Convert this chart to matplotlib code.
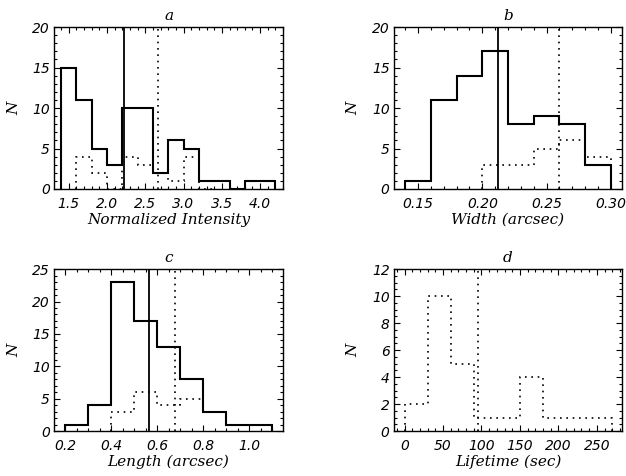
import numpy as np
import matplotlib
matplotlib.use("Agg")
import matplotlib.pyplot as plt
from matplotlib.ticker import MultipleLocator, FormatStrFormatter

# panel a - normalized intensity
a_bins = [1.4, 1.6, 1.8, 2.0, 2.2, 2.4, 2.6, 2.8, 3.0, 3.2, 3.4, 3.6, 3.8, 4.0, 4.2]
a_all = [15, 11, 5, 3, 10, 10, 2, 6, 5, 1, 1, 0, 1, 1]
a_sub_bins = [1.6, 1.8, 2.0, 2.2, 2.4, 2.6, 2.8, 3.0, 3.2, 3.4]
a_sub = [4, 2, 0, 4, 3, 2, 1, 4, 0]
a_mean_all, a_mean_sub = 2.225, 2.665

# panel b - width
b_bins = [0.14, 0.16, 0.18, 0.20, 0.22, 0.24, 0.26, 0.28, 0.30]
b_all = [1, 11, 14, 17, 8, 9, 8, 3]
b_sub_bins = [0.20, 0.22, 0.24, 0.26, 0.28, 0.30]
b_sub = [3, 3, 5, 6, 4]
b_mean_all, b_mean_sub = 0.2125, 0.2594

# panel c - length
c_bins = [0.2, 0.3, 0.4, 0.5, 0.6, 0.7, 0.8, 0.9, 1.0, 1.1]
c_all = [1, 4, 23, 17, 13, 8, 3, 1, 1]
c_sub_bins = [0.4, 0.5, 0.6, 0.7, 0.8, 0.9, 1.0, 1.1]
c_sub = [3, 6, 4, 5, 3, 1, 1]
c_mean_all, c_mean_sub = 0.566, 0.678

# panel d - lifetime (only dotted sample)
d_sub_bins = [0, 30, 60, 90, 120, 150, 180, 210, 240, 270]
d_sub = [2, 10, 5, 1, 1, 4, 1, 1, 1]
d_mean_sub = 95.5

dots = (0, (1, 2.8))
tickfont = dict(family="DejaVu Sans", style="italic", size=10)
labfont = dict(family="DejaVu Serif", style="italic", size=11)

fig = plt.figure(figsize=(6.26, 4.76), dpi=100)

def panel(pos, title, xlabel, xlim, ylim, xmaj, xmin, ymaj, ymin, fmt):
    ax = fig.add_axes(pos)
    ax.set_xlim(xlim)
    ax.set_ylim(ylim)
    ax.xaxis.set_major_locator(MultipleLocator(xmaj))
    ax.xaxis.set_minor_locator(MultipleLocator(xmin))
    ax.yaxis.set_major_locator(MultipleLocator(ymaj))
    ax.yaxis.set_minor_locator(MultipleLocator(ymin))
    ax.xaxis.set_major_formatter(FormatStrFormatter(fmt))
    ax.tick_params(which="both", direction="in", top=True, right=True, width=0.8)
    ax.tick_params(which="major", length=4)
    ax.tick_params(which="minor", length=2)
    ax.tick_params(axis="x", which="major", pad=6)
    ax.tick_params(axis="y", which="major", pad=3)
    for lab in ax.get_xticklabels() + ax.get_yticklabels():
        lab.set_fontfamily(tickfont["family"])
        lab.set_fontstyle(tickfont["style"])
        lab.set_fontsize(tickfont["size"])
    for s in ax.spines.values():
        s.set_linewidth(1.0)
    ax.set_title(title, pad=5, **labfont)
    ax.set_xlabel(xlabel, labelpad=1, **labfont)
    ax.set_ylabel("N", labelpad=8, **labfont)
    return ax

ax = panel([0.0863, 0.603, 0.366, 0.340], "a", "Normalized Intensity",
           (1.31, 4.30), (0, 20), 0.5, 0.1, 5, 1, "%.1f")
ax.stairs(a_all, a_bins, baseline=0, color="k", lw=1.5)
ax.stairs(a_sub, a_sub_bins, baseline=0, color="k", lw=1.2, ls=dots)
ax.axvline(a_mean_all, color="k", lw=1.3)
ax.axvline(a_mean_sub, color="k", lw=1.2, ls=dots)

ax = panel([0.629, 0.603, 0.365, 0.340], "b", "Width (arcsec)",
           (0.131, 0.309), (0, 20), 0.05, 0.01, 5, 1, "%.2f")
ax.stairs(b_all, b_bins, baseline=0, color="k", lw=1.5)
ax.stairs(b_sub, b_sub_bins, baseline=0, color="k", lw=1.2, ls=dots)
ax.axvline(b_mean_all, color="k", lw=1.3)
ax.axvline(b_mean_sub, color="k", lw=1.2, ls=dots)

ax = panel([0.0863, 0.0945, 0.366, 0.340], "c", "Length (arcsec)",
           (0.152, 1.147), (0, 25), 0.2, 0.05, 5, 1, "%.1f")
ax.stairs(c_all, c_bins, baseline=0, color="k", lw=1.5)
ax.stairs(c_sub, c_sub_bins, baseline=0, color="k", lw=1.2, ls=dots)
ax.axvline(c_mean_all, color="k", lw=1.3)
ax.axvline(c_mean_sub, color="k", lw=1.2, ls=dots)

ax = panel([0.629, 0.0945, 0.365, 0.340], "d", "Lifetime (sec)",
           (-14, 283), (0, 12), 50, 10, 2, 0.5, "%d")
ax.stairs(d_sub, d_sub_bins, baseline=0, color="k", lw=1.2, ls=dots)
ax.axvline(d_mean_sub, color="k", lw=1.2, ls=dots)

fig.savefig("out.png", dpi=100)
